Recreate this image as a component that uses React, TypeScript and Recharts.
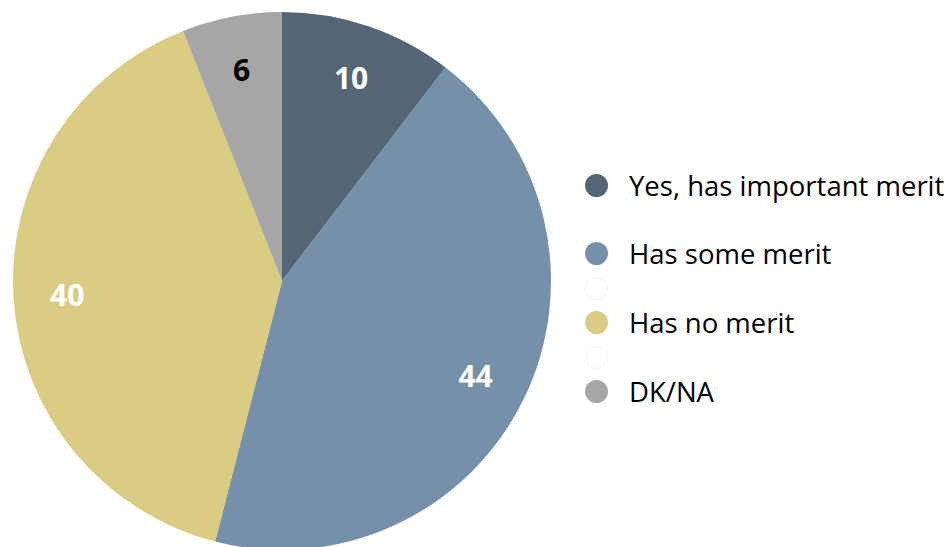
import React from 'react';
import { PieChart, Pie, Cell, Legend } from 'recharts';

const categories = ['Yes, has important merit', 'Has some merit', 'Has no merit', 'DK/NA'];
const values = [10.4, 43.6, 40, 6];
const labelsText = ['10', '44', '40', '6'];
const colors = ['#546576', '#7590A8', '#DBCC84', '#A6A6A6'];
const labelColors = ['#FFFFFF', '#FFFFFF', '#FFFFFF', '#000000'];
const legendRows = ['Yes, has important merit', '', 'Has some merit', '', 'Has no merit', '', 'DK/NA'];
const legendColors = ['#546576', '#FFFFFF', '#7590A8', '#FFFFFF', '#DBCC84', '#FFFFFF', '#A6A6A6'];
const legendBorders = ['none', 'none', 'none', '1px solid #F3F3F3', 'none', '1px solid #F3F3F3', 'none'];

const data = categories.map((name, i) => ({ name, value: values[i], label: labelsText[i] }));

const FONT = '"Open Sans", sans-serif';
const RAD = Math.PI / 180;

const renderLabel = (props: any) => {
  const { cx, cy, midAngle, outerRadius, index } = props;
  const r = outerRadius * 0.8;
  const x = cx + r * Math.cos(-midAngle * RAD);
  const y = cy + r * Math.sin(-midAngle * RAD);
  return (
    <text x={x} y={y} fill={labelColors[index]} textAnchor="middle" dominantBaseline="central"
      fontFamily={FONT} fontWeight={700} fontSize={30}>
      {data[index].label}
    </text>
  );
};

const LegendContent = () => (
  <div style={{ fontFamily: FONT }}>
    {legendRows.map((t, i) => (
      <div key={i} style={{ display: 'flex', alignItems: 'center', height: 34.4 }}>
        <div style={{ width: 23, height: 23, boxSizing: 'border-box', borderRadius: '50%', background: legendColors[i], border: legendBorders[i], marginRight: 21, flex: 'none' }} />
        <span style={{ fontSize: 27.5, color: '#000', whiteSpace: 'nowrap' }}>{t}</span>
      </div>
    ))}
  </div>
);

export default function App() {
  return (
    <div style={{ position: 'absolute', left: 0, top: 0, width: 952, height: 547, background: '#fff', overflow: 'hidden' }}>
      <PieChart width={952} height={547} margin={{ top: 0, right: 0, bottom: 0, left: 0 }}>
        <Pie data={data} dataKey="value" nameKey="name" cx={282} cy={281} outerRadius={269}
          startAngle={90} endAngle={-270} stroke="none" label={renderLabel} labelLine={false}
          isAnimationActive={false}>
          {data.map((d, i) => <Cell key={i} fill={colors[i]} />)}
        </Pie>
        <Legend content={<LegendContent />} wrapperStyle={{ left: 585, top: 168, width: 367 }} />
      </PieChart>
    </div>
  );
}
